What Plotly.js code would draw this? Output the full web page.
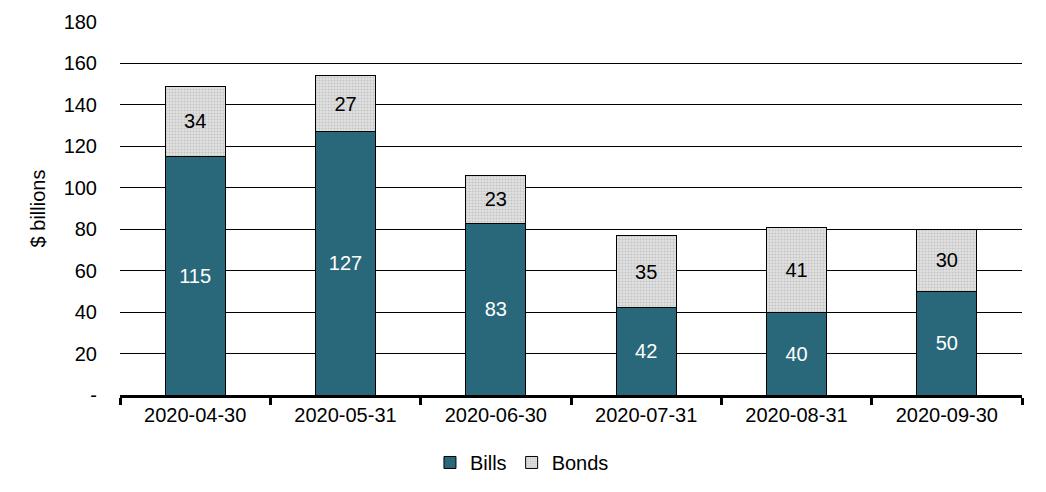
<!DOCTYPE html>
<html>
<head>
<meta charset="utf-8">
<script src="https://cdn.plot.ly/plotly-3.0.1.min.js"></script>
<style>html,body{margin:0;padding:0;background:#fff;}#chart{width:1046px;height:492px;}</style>
</head>
<body>
<div id="chart"></div>
<script>
var categories = ["2020-04-30","2020-05-31","2020-06-30","2020-07-31","2020-08-31","2020-09-30"];
var bills = [115,127,83,42,40,50];
var bonds = [34,27,23,35,41,30];
var yTickVals = [0,20,40,60,80,100,120,140,160,180];
var yTickText = ["-","20","40","60","80","100","120","140","160","180"];

var font = "Liberation Sans, Arial, sans-serif";
var traces = [
  {type:"bar", name:"Bills", x:categories, y:bills, text:bills.map(String),
   textposition:"inside", insidetextanchor:"middle", constraintext:"none",
   textfont:{color:"#ffffff", size:20, family:font},
   marker:{color:"#29677a", line:{color:"#000", width:1}}, hoverinfo:"none"},
  {type:"bar", name:"Bonds", x:categories, y:bonds, text:bonds.map(String),
   textposition:"inside", insidetextanchor:"middle", constraintext:"none",
   textfont:{color:"#000000", size:20, family:font},
   marker:{color:"#dadada", line:{color:"#000", width:1},
           pattern:{shape:".", bgcolor:"#e2e2e2", fgcolor:"#c4c4c4", size:3, solidity:0.4, fillmode:"replace"}},
   hoverinfo:"none"}
];
var layout = {
  width:1046, height:492, barmode:"stack", bargap:0.6,
  margin:{l:120, r:24, t:22, b:97, autoexpand:false},
  paper_bgcolor:"#fff", plot_bgcolor:"#fff",
  font:{family:font, size:20, color:"#000"},
  showlegend:true,
  legend:{orientation:"h", x:0.499, xref:"container", xanchor:"center",
          y:0.06, yref:"container", yanchor:"middle",
          font:{size:20}, itemwidth:30, traceorder:"normal"},
  xaxis:{type:"category", showline:true, linecolor:"#000", linewidth:3,
         ticks:"outside", tickson:"boundaries", ticklen:7, tickwidth:3, tickcolor:"#000",
         showgrid:false, tickfont:{size:20}, fixedrange:true, automargin:false},
  yaxis:{range:[0,180], tickvals:yTickVals, ticktext:yTickText,
         showgrid:true, gridcolor:"#000", gridwidth:1, zeroline:false,
         showline:false, ticks:"", ticklabelstandoff:22, tickfont:{size:20},
         title:{text:"$ billions", font:{size:20}, standoff:12}, fixedrange:true, automargin:false}
};
Plotly.newPlot("chart", traces, layout, {staticPlot:true, displayModeBar:false});
</script>
</body>
</html>
